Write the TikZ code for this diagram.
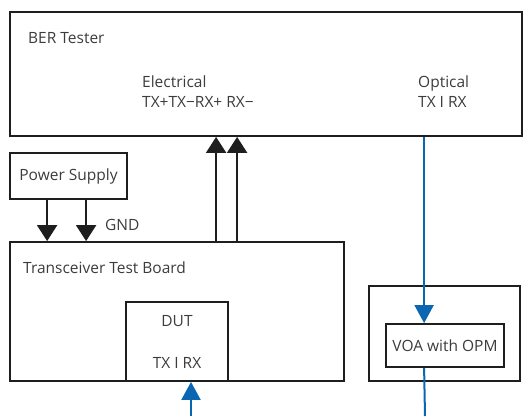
\documentclass[tikz,border=0pt]{standalone}
\usepackage{fontspec}
\setmainfont{Open Sans}
\usepackage{tikz}
\usetikzlibrary{arrows.meta,positioning,calc}
\definecolor{txtC}{RGB}{60,60,60}
\definecolor{lineC}{RGB}{30,30,30}
\definecolor{fiberC}{RGB}{10,102,176}

\begin{document}
\begin{tikzpicture}[
  x=1pt,y=-1pt,
  box/.style={draw=lineC,line width=1.8pt,inner sep=0pt},
  lbl/.style={text=txtC,font=\fontsize{15.5}{20}\selectfont,inner sep=0pt},
  arr/.style={-{Triangle[width=20pt,length=16pt]},line width=2pt,draw=lineC},
  optarr/.style={-{Triangle[width=19pt,length=18pt]},line width=2pt,draw=fiberC,fiberC}
]
  \useasboundingbox (0,0) rectangle (525,416);

  % BER Tester box
  \node[box,minimum width=512pt,minimum height=124pt] (ber) at (266,74) {};
  \node[lbl,anchor=base west] (bertitle) at (28,43) {BER Tester};
  \node[lbl,anchor=base west,align=left] (elec) at (142,107)
    {Electrical\\TX+TX\textminus RX+ RX\textminus};
  \node[lbl,anchor=base west,align=left] (opt) at (418,107)
    {Optical\\TX I RX};

  % Power supply
  \node[box,lbl,minimum width=117pt,minimum height=46pt] (psu) at (68.5,176)
    {Power Supply};

  % Transceiver test board with DUT
  \node[box,minimum width=334pt,minimum height=139pt] (board) at (177,311.5) {};
  \node[lbl,anchor=base west] (boardtitle) at (23,273) {Transceiver Test Board};
  \node[box,lbl,align=center,minimum width=102pt,minimum height=79pt] (dut)
    at (177,341.5) {DUT\\[22pt]TX I RX};

  % VOA with OPM
  \node[box,minimum width=151pt,minimum height=95pt] (voabox) at (444.5,333.5) {};
  \node[box,lbl,minimum width=118pt,minimum height=43pt] (voa) at (445,345.5)
    {VOA with OPM};

  % Power and ground
  \draw[arr] ([xshift=38pt]psu.south west)
    -- ([xshift=38pt]psu.south west |- board.north);
  \draw[arr] ([xshift=77pt]psu.south west)
    -- ([xshift=77pt]psu.south west |- board.north)
    node[lbl,pos=0.62,right=18pt] (gnd) {GND};

  % Electrical lanes
  \draw[arr] ([xshift=207pt]board.north west)
    -- ([xshift=207pt]board.north west |- ber.south);
  \draw[arr] ([xshift=228pt]board.north west)
    -- ([xshift=228pt]board.north west |- ber.south);

  % Optical path
  \coordinate (voain) at ([xshift=39pt]voa.north west);
  \coordinate (fiberout) at (425,416);
  \coordinate (fiberin) at (191,416);
  \draw[optarr] (ber.south -| voain) -- (voain);
  \draw[line width=2pt,fiberC] (voa.south -| voain) -- (fiberout);
  \draw[optarr] (fiberin) -- (fiberin |- dut.south);
\end{tikzpicture}
\end{document}
